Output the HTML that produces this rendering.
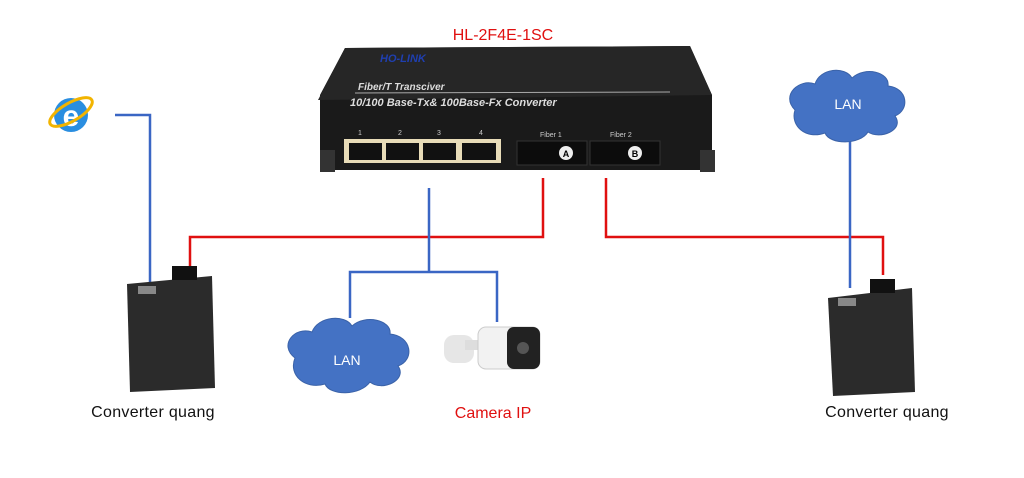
<!DOCTYPE html>
<html><head><style>
body{margin:0;background:#fff;width:1024px;height:478px;overflow:hidden}
svg{display:block}
text{font-family:"Liberation Sans",sans-serif}
</style></head><body>
<svg width="1024" height="478" viewBox="0 0 1024 478">
<!-- connectors -->
<g fill="none" stroke-width="2.5">
<polyline points="115,115 150,115 150,285" stroke="#3a66c4"/>
<polyline points="190,272 190,237 543,237 543,178" stroke="#e01010"/>
<polyline points="606,178 606,237 883,237 883,275" stroke="#e01010"/>
<polyline points="850,130 850,288" stroke="#3a66c4"/>
<polyline points="429,188 429,272" stroke="#3a66c4"/>
<polyline points="350,318 350,272 497,272 497,322" stroke="#3a66c4"/>
</g>
<text x="503" y="40" fill="#e01010" font-size="16" text-anchor="middle">HL-2F4E-1SC</text>
<!-- switch -->
<polygon points="345,48 690,46 712,95 712,170 320,170 320,95" fill="#1a1a1a"/>
<polygon points="345,48 690,46 712,95 318,100" fill="#262626"/>
<rect x="320" y="150" width="15" height="22" fill="#333"/>
<rect x="700" y="150" width="15" height="22" fill="#333"/>
<text x="380" y="62" fill="#1f3fb0" font-size="11" font-weight="bold" font-style="italic">HO-LINK</text>
<text x="358" y="90" fill="#ddd" font-size="10" font-weight="bold" font-style="italic">Fiber/T Transciver</text>
<line x1="355" y1="93" x2="670" y2="92" stroke="#aaa"/>
<text x="350" y="106" fill="#ddd" font-size="11" font-weight="bold" font-style="italic">10/100 Base-Tx&amp; 100Base-Fx Converter</text>
<rect x="344" y="139" width="157" height="24" fill="#e8dcb8"/>
<g fill="#111"><rect x="349" y="143" width="33" height="17"/><rect x="386" y="143" width="33" height="17"/><rect x="423" y="143" width="33" height="17"/><rect x="462" y="143" width="34" height="17"/></g>
<g fill="#ccc" font-size="7"><text x="358" y="135">1</text><text x="398" y="135">2</text><text x="437" y="135">3</text><text x="479" y="135">4</text><text x="540" y="137">Fiber 1</text><text x="610" y="137">Fiber 2</text></g>
<rect x="517" y="141" width="70" height="24" fill="#0c0c0c" stroke="#333"/>
<rect x="590" y="141" width="70" height="24" fill="#0c0c0c" stroke="#333"/>
<circle cx="566" cy="153" r="7" fill="#eee"/><text x="566" y="157" font-size="9" text-anchor="middle" font-weight="bold">A</text>
<circle cx="635" cy="153" r="7" fill="#eee"/><text x="635" y="157" font-size="9" text-anchor="middle" font-weight="bold">B</text>
<!-- IE icon -->
<circle cx="71" cy="115" r="17" fill="#2a8ee0"/>
<text x="71" y="126" fill="#fff" font-size="30" font-weight="bold" text-anchor="middle">e</text>
<ellipse cx="71" cy="112" rx="24" ry="9" fill="none" stroke="#f2b400" stroke-width="3" transform="rotate(-30 71 112)"/>
<!-- clouds -->
<g fill="#4472c4" stroke="#3a62a8">
<path d="M795,110 C780,95 800,78 815,84 C820,68 845,66 852,78 C865,66 890,72 888,86 C908,88 910,110 895,116 C905,130 880,140 868,132 C860,145 830,145 825,133 C805,140 790,125 795,110Z"/>
<path d="M295,358 C278,345 295,326 312,332 C318,316 345,314 352,326 C365,314 392,320 390,334 C412,336 415,360 398,366 C408,380 382,392 370,382 C360,396 330,396 325,384 C305,390 288,375 295,358Z"/>
</g>
<text x="848" y="109" fill="#fff" font-size="14" text-anchor="middle">LAN</text>
<text x="347" y="365" fill="#fff" font-size="14" text-anchor="middle">LAN</text>
<!-- camera -->
<rect x="444" y="335" width="30" height="28" rx="10" fill="#e6e6e6"/>
<rect x="465" y="340" width="20" height="10" fill="#ddd"/>
<rect x="478" y="327" width="62" height="42" rx="8" fill="#f2f2f2" stroke="#ccc"/>
<rect x="507" y="327" width="33" height="42" rx="7" fill="#222"/>
<circle cx="523" cy="348" r="6" fill="#555"/>
<!-- converters -->
<polygon points="127,284 212,276 215,388 130,392" fill="#2b2b2b"/>
<rect x="172" y="266" width="25" height="14" fill="#111"/>
<rect x="138" y="286" width="18" height="8" fill="#888"/>
<polygon points="828,298 912,288 915,392 833,396" fill="#2b2b2b"/>
<rect x="870" y="279" width="25" height="14" fill="#111"/>
<rect x="838" y="298" width="18" height="8" fill="#888"/>
<text x="153" y="417" font-size="16" letter-spacing="0.3" text-anchor="middle" fill="#111">Converter quang</text>
<text x="887" y="417" font-size="16" letter-spacing="0.3" text-anchor="middle" fill="#111">Converter quang</text>
<text x="493" y="418" font-size="16" text-anchor="middle" fill="#e01010">Camera IP</text>
</svg>
</body></html>
